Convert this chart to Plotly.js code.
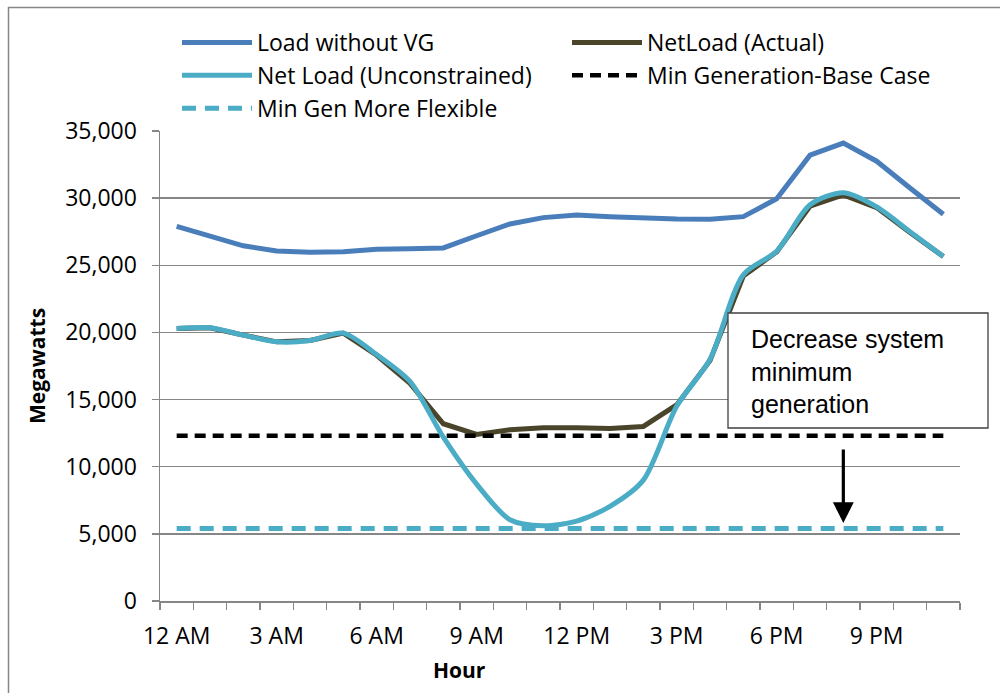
<!DOCTYPE html>
<html>
<head>
<meta charset="utf-8">
<script src="https://cdn.plot.ly/plotly-3.0.1.min.js"></script>
<style>
  html, body { margin: 0; padding: 0; background: #fff; }
  #chart { width: 1000px; height: 693px; }
</style>
</head>
<body>
<div id="chart"></div>
<script>
// Hours (category index) and labels
const hours = [0,1,2,3,4,5,6,7,8,9,10,11,12,13,14,15,16,17,18,19,20,21,22,23];
const tickPositions = [0,3,6,9,12,15,18,21];
const tickLabels = ["12 AM","3 AM","6 AM","9 AM","12 PM","3 PM","6 PM","9 PM"];

// Series values (MW)
const loadWithoutVG = [27900,27150,26450,26070,25970,26000,26200,26230,26290,27200,28080,28550,
                       28750,28620,28500,28450,28420,28620,29950,33200,34100,32750,30750,28800];
const netLoadActual = [20300,20350,19800,19300,19400,19950,18300,16200,13200,12400,12750,12900,
                       12900,12850,13000,14600,17900,24200,26000,29400,30250,29300,27450,25650];
const netLoadUnconstrained = [20300,20350,19800,19300,19400,19950,18350,16350,12200,8700,6050,5600,
                       5950,7050,9000,14500,18000,24300,26050,29500,30400,29350,27500,25650];
const minGenBase = [12300,12300,12300,12300,12300,12300,12300,12300,12300,12300,12300,12300,
                    12300,12300,12300,12300,12300,12300,12300,12300,12300,12300,12300,12300];
const minGenFlexible = [5400,5400,5400,5400,5400,5400,5400,5400,5400,5400,5400,5400,
                        5400,5400,5400,5400,5400,5400,5400,5400,5400,5400,5400,5400];

const seriesNames = ["Load without VG","NetLoad (Actual)","Net Load (Unconstrained)",
                     "Min Generation-Base Case","Min Gen More Flexible"];

// Annotation values
const arrowHour = 20;
const arrowFrom = 11400;
const arrowTo = 5800;
const boxText = "Decrease system<br>minimum<br>generation";

const FONT = '"Open Sans", "Liberation Sans", sans-serif';
const GRID = '#868686';

const traces = [
  {x: hours, y: loadWithoutVG, name: seriesNames[0], type: 'scatter', mode: 'lines', legendrank: 1,
   line: {color: '#4A7EBB', width: 5}},
  {x: hours, y: netLoadActual, name: seriesNames[1], type: 'scatter', mode: 'lines', legendrank: 2,
   line: {color: '#4A452A', width: 5}},
  {x: hours, y: minGenBase, name: seriesNames[3], type: 'scatter', mode: 'lines', legendrank: 4,
   line: {color: '#000000', width: 4.5, dash: '11px,7px'}},
  {x: hours, y: minGenFlexible, name: seriesNames[4], type: 'scatter', mode: 'lines', legendrank: 5,
   line: {color: '#4BACC6', width: 5, dash: '14px,9px'}},
  {x: hours, y: netLoadUnconstrained, name: seriesNames[2], type: 'scatter', mode: 'lines', legendrank: 3,
   line: {color: '#4BACC6', width: 5, shape: 'spline', smoothing: 0.8}}
];

const px = v => (v - 160) / 800;
const py = v => (601 - v) / 470;

const layout = {
  width: 1000, height: 693,
  margin: {l: 160, r: 40, t: 131, b: 92},
  paper_bgcolor: '#ffffff', plot_bgcolor: '#ffffff',
  font: {family: FONT, size: 23, color: '#000000'},
  showlegend: true,
  legend: {
    orientation: 'h', x: px(177), xanchor: 'left', y: py(21), yanchor: 'top',
    entrywidth: 305, entrywidthmode: 'pixels', itemwidth: 70,
    font: {family: FONT, size: 23, color: '#000000'},
    bgcolor: 'rgba(0,0,0,0)', traceorder: 'normal'
  },
  xaxis: {
    type: 'linear', range: [-0.5, 23.5], fixedrange: true,
    tickmode: 'array', tickvals: tickPositions, ticktext: tickLabels,
    ticks: '', showgrid: false, zeroline: false,
    showline: true, linecolor: GRID, linewidth: 1.5,
    ticklabelstandoff: 14,
    tickfont: {family: FONT, size: 23, color: '#000'},
    minor: {ticks: 'outside', tick0: -0.5, dtick: 1, ticklen: 7, tickwidth: 1.5, tickcolor: GRID, showgrid: false}
  },
  yaxis: {
    range: [0, 35000], dtick: 5000, tick0: 0, tickformat: ',d', fixedrange: true,
    ticks: 'outside', ticklen: 7, tickwidth: 1.5, tickcolor: GRID,
    showgrid: true, gridcolor: GRID, gridwidth: 1.3, zeroline: false,
    showline: true, linecolor: GRID, linewidth: 1.5,
    ticklabelstandoff: 10,
    tickfont: {family: FONT, size: 23, color: '#000'}
  },
  shapes: [
    // chart frame
    {type: 'rect', xref: 'paper', yref: 'paper', x0: px(8.5), x1: px(1010), y0: py(705), y1: py(7.5),
     line: {color: GRID, width: 1.5}, fillcolor: 'rgba(0,0,0,0)', layer: 'below'},
    // annotation box
    {type: 'rect', xref: 'paper', yref: 'paper', x0: px(728), x1: px(988), y0: py(428), y1: py(313),
     line: {color: '#404040', width: 1.3}, fillcolor: '#ffffff', layer: 'above'}
  ],
  annotations: [
    {xref: 'paper', yref: 'paper', x: px(749), y: py(371), xanchor: 'left', yanchor: 'middle',
     text: boxText, showarrow: false, align: 'left',
     font: {family: '"Liberation Sans", Arial, sans-serif', size: 25, color: '#000'}},
    {x: arrowHour, y: arrowTo, ax: arrowHour, ay: arrowFrom, axref: 'x', ayref: 'y', xref: 'x', yref: 'y',
     text: '', showarrow: true, arrowhead: 2, arrowsize: 1.3, arrowwidth: 3.2, arrowcolor: '#000'},
    {xref: 'paper', yref: 'paper', x: px(459), y: py(670), xanchor: 'center', yanchor: 'middle',
     text: '<b>Hour</b>', showarrow: false, font: {family: FONT, size: 21, color: '#000'}},
    {xref: 'paper', yref: 'paper', x: px(37), y: py(366), xanchor: 'center', yanchor: 'middle',
     text: '<b>Megawatts</b>', textangle: -90, showarrow: false, font: {family: FONT, size: 21, color: '#000'}}
  ]
};

Plotly.newPlot('chart', traces, layout, {displayModeBar: false, staticPlot: true});
</script>
</body>
</html>
